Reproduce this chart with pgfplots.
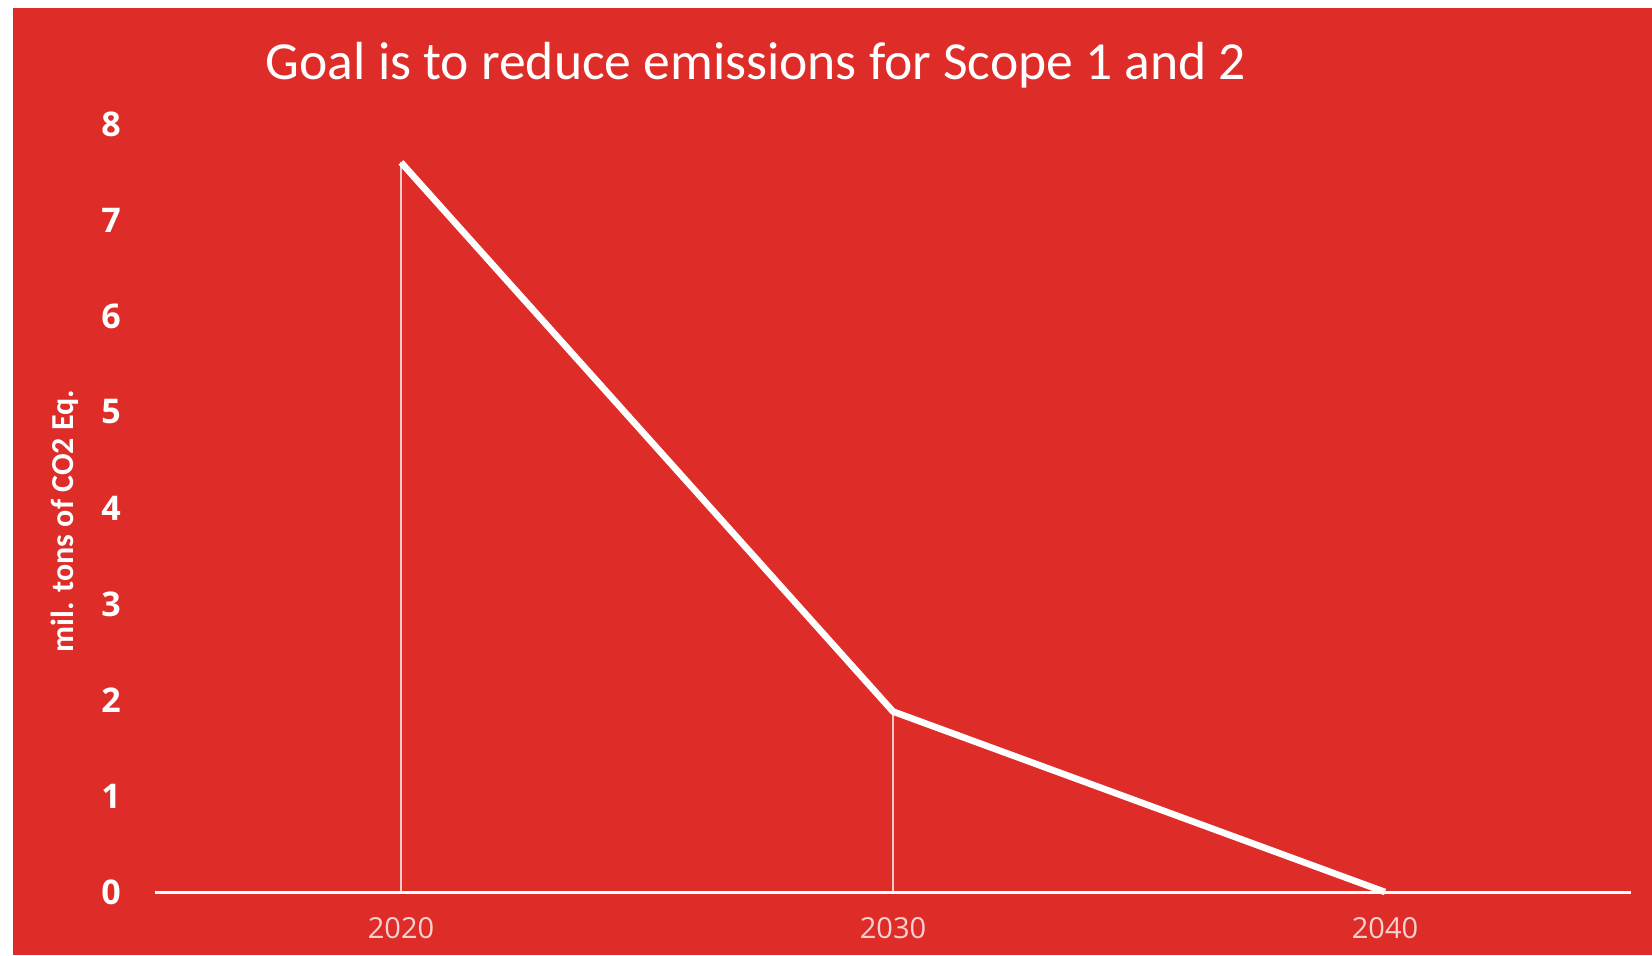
\documentclass[border=0pt]{standalone}
\usepackage{fontspec}
\setmainfont{Carlito}
\newfontfamily\tickfont{Open Sans}
\usepackage{pgfplots}
\pgfplotsset{compat=1.18}
\definecolor{bgred}{RGB}{222,45,40}
\definecolor{xlab}{RGB}{248,210,208}
\begin{document}
\begin{tikzpicture}
\path[use as bounding box, fill=white] (-77.5pt,-31.5pt) rectangle (748.5pt,446pt);
\fill[bgred] (-71pt,-31.5pt) rectangle (748.5pt,442pt);
\begin{axis}[
  at={(0pt,0pt)}, anchor=south west,
  scale only axis, width=738pt, height=384pt,
  xmin=2015, xmax=2045, ymin=0, ymax=8,
  axis lines*=left,
  x axis line style={white, line width=1.5pt},
  y axis line style={draw=none},
  major tick length=0pt,
  xtick={2020,2030,2040}, xticklabels={2020,2030,2040},
  ytick={0,1,...,8},
  /pgf/number format/assume math mode=true,
  xticklabel style={font=\tickfont\fontsize{14.5}{16}\selectfont, text=xlab, anchor=center, yshift=-18pt},
  yticklabel style={font=\tickfont\bfseries\fontsize{17}{19}\selectfont, text=white, anchor=center, xshift=-22pt},
  clip=false,
]
\addplot[ycomb, draw=white, draw opacity=0.75, line width=0.8pt, mark=none] coordinates {(2020,7.6) (2030,1.88)};
\addplot[white, line width=3.3pt, mark=none] coordinates {(2020,7.6) (2030,1.88) (2040,0)};
\end{axis}
\node[text=white, font=\fontsize{26.8}{32}\selectfont] at (300.5pt,413.5pt) {Goal is to reduce emissions for Scope 1 and 2};
\node[text=white, rotate=90, font=\bfseries\fontsize{16}{18}\selectfont] at (-45pt,185.5pt) {mil. tons of CO2 Eq.};
\end{tikzpicture}
\end{document}
